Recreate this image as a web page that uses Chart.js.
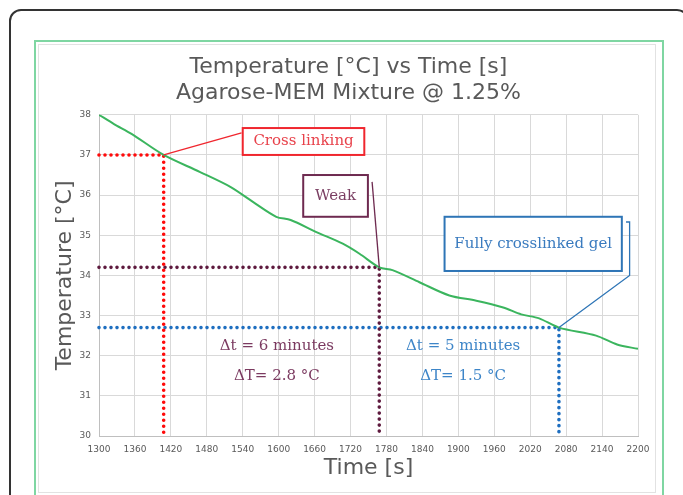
<!DOCTYPE html>
<html>
<head>
<meta charset="utf-8">
<script src="https://cdn.jsdelivr.net/npm/chart.js@4.4.1/dist/chart.umd.min.js"></script>
<style>
  html, body { margin: 0; padding: 0; background: #fff; overflow: hidden; }
  body { width: 683px; height: 495px; position: relative; }
  .outer {
    position: absolute; left: 9px; top: 9px; width: 680px; height: 520px;
    border: 2px solid #333; border-radius: 12px; box-sizing: border-box;
  }
  .panel {
    position: absolute; left: 34px; top: 40px; width: 630px; height: 480px;
    border: 2px solid #7fd6a2; box-sizing: border-box;
  }
  .panel-inner {
    position: absolute; left: 38px; top: 44px; width: 618px; height: 449px;
    border: 1px solid #e2e2e2; box-sizing: border-box;
  }
  canvas { position: absolute; left: 0; top: 0; }
</style>
</head>
<body>
<div class="outer"></div>
<div class="panel"></div>
<div class="panel-inner"></div>
<canvas id="chart" width="683" height="495"></canvas>
<script>
// Cooling curve
const timeSec = [1300, 1325, 1355, 1408, 1468, 1520, 1557, 1596, 1620, 1663, 1707, 1735, 1768, 1790, 1835, 1885, 1930, 1975, 2005, 2035, 2068, 2130, 2165, 2200];
const tempC   = [38.0, 37.77, 37.52, 37.0, 36.58, 36.2, 35.83, 35.46, 35.38, 35.08, 34.79, 34.54, 34.2, 34.13, 33.83, 33.5, 33.37, 33.2, 33.03, 32.93, 32.7, 32.5, 32.28, 32.17];

// Marked stages (cross linking, weak, fully crosslinked)
const stageTime = [1408, 1768, 2068];
const stageTemp = [37.0, 34.2, 32.7];
const stageText = ['Cross linking', 'Weak', 'Fully crosslinked gel'];

const deltaTimeLabels = ['\u0394t = 6 minutes', '\u0394t = 5 minutes'];
const deltaTempLabels = ['\u0394T= 2.8 \u00B0C', '\u0394T= 1.5 \u00B0C'];

const xTicks = [1300, 1360, 1420, 1480, 1540, 1600, 1660, 1720, 1780, 1840, 1900, 1960, 2020, 2080, 2140, 2200];
const yTicks = [30, 31, 32, 33, 34, 35, 36, 37, 38];

const X_MIN = 1300, X_MAX = 2200, Y_MIN = 30, Y_MAX = 38;

const guideColors = ['#ff0a0a', '#5e1a3e', '#1f6fc0'];

// callout boxes placed in data units, leader runs from last bend to the stage point
const callouts = [
  { box: [1540, 1743, 37.67, 37.0], bends: [[1538, 37.55]], border: '#f0262e', text: '#e8424b' },
  { box: [1641, 1749, 36.5, 35.46], bends: [[1756, 36.33]], border: '#6e2a50', text: '#7a3e62' },
  { box: [1877, 2173, 35.46, 34.11], bends: [[2180, 35.33], [2186, 35.33], [2186, 34.0]], border: '#2e75b6', text: '#3a7bbf' },
];
const deltaPos = [[1597, 1908], [32.25, 31.5]];
const deltaColors = ['#7b3a60', '#3d85c8'];

function guide(i) {
  return [
    { x: X_MIN, y: stageTemp[i] },
    { x: stageTime[i], y: stageTemp[i] },
    { x: stageTime[i], y: Y_MIN },
  ];
}

const annotate = {
  id: 'annotate',
  afterDatasetsDraw(chart) {
    const { ctx, scales: { x, y } } = chart;
    ctx.save();
    callouts.forEach((c, i) => {
      const px = x.getPixelForValue(stageTime[i]);
      const py = y.getPixelForValue(stageTemp[i]);
      // leader line
      ctx.strokeStyle = c.border;
      ctx.lineWidth = 1.3;
      ctx.beginPath();
      c.bends.forEach(([bx, by], k) => {
        const X = x.getPixelForValue(bx), Y = y.getPixelForValue(by);
        k ? ctx.lineTo(X, Y) : ctx.moveTo(X, Y);
      });
      ctx.lineTo(px, py);
      ctx.stroke();
      // box
      const x1 = x.getPixelForValue(c.box[0]), x2 = x.getPixelForValue(c.box[1]);
      const y1 = y.getPixelForValue(c.box[2]), y2 = y.getPixelForValue(c.box[3]);
      ctx.fillStyle = '#fff';
      ctx.fillRect(x1, y1, x2 - x1, y2 - y1);
      ctx.lineWidth = 2;
      ctx.strokeRect(x1, y1, x2 - x1, y2 - y1);
      ctx.fillStyle = c.text;
      ctx.font = '15px "DejaVu Serif"';
      ctx.textAlign = 'center';
      ctx.textBaseline = 'middle';
      ctx.fillText(stageText[i], (x1 + x2) / 2, (y1 + y2) / 2);
    });
    // delta annotations
    ctx.font = '15px "DejaVu Serif"';
    ctx.textAlign = 'center';
    ctx.textBaseline = 'middle';
    deltaTimeLabels.forEach((t, i) => {
      const px = x.getPixelForValue(deltaPos[0][i]);
      ctx.fillStyle = deltaColors[i];
      ctx.fillText(t, px, y.getPixelForValue(deltaPos[1][0]));
      ctx.fillText(deltaTempLabels[i], px, y.getPixelForValue(deltaPos[1][1]));
    });
    ctx.restore();
  },
};

const guideSets = stageTime.map((_, i) => ({
  data: guide(i),
  borderColor: guideColors[i],
  borderWidth: 3.6,
  borderDash: [0, 6],
  borderCapStyle: 'round',
  pointRadius: 0,
  tension: 0,
  clip: false,
  order: 2,
}));

new Chart(document.getElementById('chart'), {
  type: 'line',
  data: {
    datasets: [
      {
        data: timeSec.map((t, i) => ({ x: t, y: tempC[i] })),
        borderColor: '#3bb55e',
        borderWidth: 2,
        pointRadius: 0,
        tension: 0.3,
        order: 1,
      },
      ...guideSets,
    ],
  },
  options: {
    responsive: false,
    animation: false,
    devicePixelRatio: 1,
    layout: { padding: { left: 59, right: 45, top: 40, bottom: 10 } },
    plugins: {
      legend: { display: false },
      tooltip: { enabled: false },
      title: {
        display: true,
        text: ['Temperature [\u00B0C] vs Time [s]', 'Agarose-MEM Mixture @ 1.25%'],
        color: '#595959',
        font: { family: '"DejaVu Sans"', size: 22, weight: 'normal' },
        padding: { top: 14, bottom: 8 },
      },
    },
    scales: {
      x: {
        type: 'linear',
        min: X_MIN,
        max: X_MAX,
        afterBuildTicks(s) { s.ticks = xTicks.map((v) => ({ value: v })); },
        afterFit(s) { s.height = 49; },
        ticks: {
          color: '#595959',
          font: { family: '"DejaVu Sans"', size: 9 },
          padding: 8,
          maxRotation: 0,
          autoSkip: false,
          callback(v) { return String(v); },
        },
        grid: { color: '#d9d9d9', drawTicks: false },
        border: { color: '#bfbfbf' },
        title: {
          display: true,
          text: 'Time [s]',
          color: '#595959',
          font: { family: '"DejaVu Sans"', size: 22 },
          padding: { top: 0, bottom: 4 },
        },
      },
      y: {
        min: Y_MIN,
        max: Y_MAX,
        afterBuildTicks(s) { s.ticks = yTicks.map((v) => ({ value: v })); },
        afterFit(s) { s.width = 40; },
        ticks: { color: '#595959', font: { family: '"DejaVu Sans"', size: 9 }, padding: 8 },
        grid: { color: '#d9d9d9', drawTicks: false },
        border: { color: '#bfbfbf' },
        title: {
          display: true,
          text: 'Temperature [\u00B0C]',
          color: '#595959',
          font: { family: '"DejaVu Sans"', size: 22, lineHeight: 0.6 },
          padding: { top: 0, bottom: 0 },
        },
      },
    },
  },
  plugins: [annotate],
});
</script>
</body>
</html>
